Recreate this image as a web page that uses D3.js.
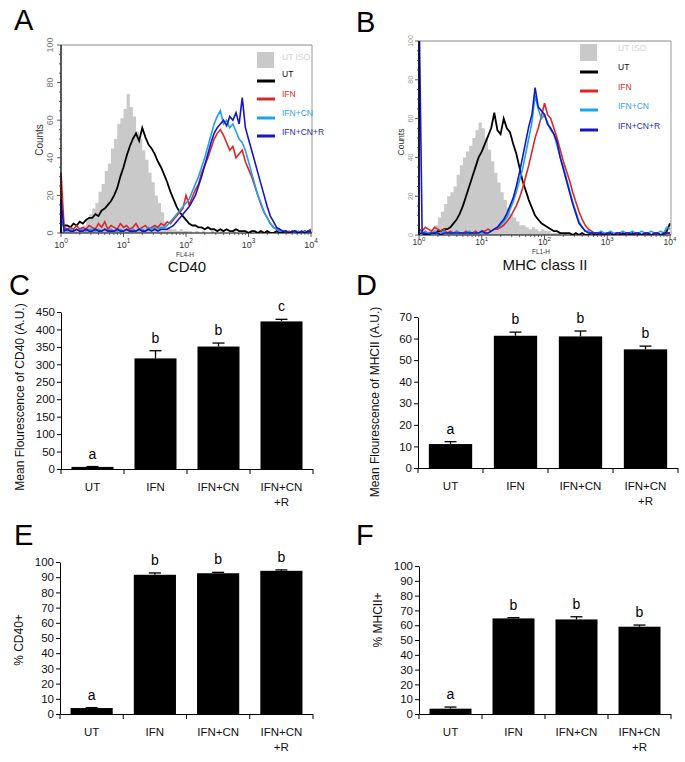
<!DOCTYPE html>
<html><head><meta charset="utf-8">
<script src="https://cdn.jsdelivr.net/npm/d3@7"></script>
<style>
body{margin:0;background:#fff}
svg{display:block}
text{font-family:"Liberation Sans",Arial,Helvetica,sans-serif}
</style>
</head><body>
<svg id="fig" width="685" height="762"></svg>
<script>
// ---------------- DATA ----------------
// Flow histograms: counts per channel, channels spaced 0.05 decade from 10^0 to 10^4
const histSeries = ["UT ISO", "UT", "IFN", "IFN+CN", "IFN+CN+R"];
const decadeTicks = [1, 10, 100, 1000, 10000];
const decadeExponents = ["0", "1", "2", "3", "4"];
const countTicks = [0, 20, 40, 60, 80, 100];

const cd40_UTISO = [2,1,1,2,1,2,3,4,7,10, 13,16,22,26,33,37,45,50,58,61, 66,74,67,62,54,50,44,39,32,27, 20,16,11,6,3,2,2,1,2,1, 1, 1,0,1,0,1,0,0,1,0,0, 1,0,0,0,1,0,0,0,0,1, 0,0,0,0,0,1,0,0,0,0, 0,0,0,0,0,0,0,0,0,1];
const cd40_UT = [5,4,4,3,5,4,6,5,7,8, 8,10,9,12,13,15,17,20,24,30, 35,41,46,50,53,49,56,51,47,45, 42,38,35,31,27,22,18,14,11,9, 7,5,4,4,3,3,2,3,2,2, 1,2,1,2,1,1,2,1,1,1, 0,1,1,0,1,0,1,0,0,1, 0,0,1,0,0,1,0,0,1,0,1];
const cd40_IFN = [32,3,2,3,2,4,2,3,2,4, 3,2,5,3,6,2,4,3,2,5, 3,4,2,3,5,2,3,4,2,3, 4,3,5,4,6,5,7,9,11,13, 20,15,19,23,26,32,36,40,45,50, 53,55,52,48,44,46,40,42,44,38, 34,30,25,20,15,11,8,5,3,2, 1,1,0,1,0,1,0,1,0,1,2];
const cd40_IFNCN = [8,2,1,2,1,2,1,2,1,2, 2,1,2,1,2,1,2,1,1,2, 1,2,1,2,1,2,2,1,3,2, 3,2,3,3,4,6,8,10,12,14, 16,18,22,26,30,35,40,46,52,58, 62,65,58,60,56,58,54,50,48,44, 38,32,26,20,16,11,8,5,3,2, 1,1,1,0,1,0,1,0,1,0,1];
const cd40_IFNCNR = [18,1,2,1,1,2,1,1,2,1, 1,2,1,1,2,1,1,1,2,1, 1,2,1,1,1,2,1,1,2,1, 2,1,2,2,2,3,4,6,8,10, 12,14,17,20,25,30,36,42,48,53, 56,58,60,57,62,60,64,58,72,56, 50,44,38,32,26,20,14,9,6,3, 2,1,1,0,1,1,0,1,0,1,1];

const mhc_UTISO = [0,1,1,2,3,5,9,12,16,20, 22,25,31,36,40,43,46,50,54,58, 55,50,44,38,32,27,22,18,14,11, 9,7,5,5,4,3,4,3,2,3, 2,2,1,1,1,0,1,0,1,0, 0,1,0,0,0,1,0,0,0,0, 1,0,0,0,0,0,1,0,0,0, 0,0,1,0,0,0,0,0,0,0,1];
const mhc_UT = [1,1,0,1,1,1,2,2,3,3, 4,6,8,11,15,20,25,30,35,40, 43,47,51,55,63,54,52,60,55,53, 47,42,35,28,23,18,14,10,8,6, 5,4,3,2,2,1,1,1,1,0, 1,0,1,0,0,1,0,0,1,0, 0,1,0,0,0,1,0,0,1,0, 0,0,1,0,0,0,1,0,0,2,6];
const mhc_IFN = [3,2,4,3,2,4,3,2,3,1, 2,1,2,1,1,2,1,1,2,1, 2,2,3,2,3,3,4,5,7,9, 12,15,19,24,30,36,43,50,55,61, 68,62,60,55,50,44,38,33,28,22, 17,12,8,5,3,2,1,1,0,1, 0,1,0,0,1,0,0,1,0,0, 1,0,0,1,0,0,1,0,0,1,1];
const mhc_IFNCN = [2,1,2,1,1,2,1,1,2,1, 1,1,2,1,1,1,2,1,1,1, 1,1,1,2,3,4,5,7,9,13, 17,22,28,34,42,50,58,72,65,60, 62,58,54,52,46,40,35,29,23,17, 12,7,4,2,2,1,1,1,2,1, 1,2,1,1,1,2,1,1,2,1, 1,2,1,1,2,1,1,2,1,4,3];
const mhc_IFNCNR = [120,1,1,0,1,1,1,0,1,1, 1,1,1,1,1,1,1,1,1,1, 2,1,1,2,3,4,6,8,11,15, 19,25,32,40,48,56,62,76,66,64, 62,57,55,52,48,40,34,28,22,16, 11,6,4,2,1,1,1,1,1,0, 1,1,0,1,1,0,1,1,0,1, 1,0,1,1,0,1,1,0,1,1,1];

// Bar charts
const barCategories = ["UT", "IFN", "IFN+CN", "IFN+CN +R"];
const barCategoryLines = [["UT"], ["IFN"], ["IFN+CN"], ["IFN+CN", "+R"]];

const mfiCD40 = [6, 317, 351, 423];
const mfiCD40Err = [1, 22, 10, 6];
const mfiCD40Sig = ["a", "b", "b", "c"];
const mfiCD40Ticks = [0, 50, 100, 150, 200, 250, 300, 350, 400, 450];

const mfiMHCII = [11.1, 61.3, 61.0, 55.0];
const mfiMHCIIErr = [1.1, 1.7, 2.5, 1.5];
const mfiMHCIISig = ["a", "b", "b", "b"];
const mfiMHCIITicks = [0, 10, 20, 30, 40, 50, 60, 70];

const pctCD40 = [3.9, 91.6, 92.6, 94.2];
const pctCD40Err = [0.3, 1.2, 0.6, 0.6];
const pctCD40Sig = ["a", "b", "b", "b"];
const pctTicks = [0, 10, 20, 30, 40, 50, 60, 70, 80, 90, 100];

const pctMHCII = [3.6, 64.6, 63.9, 59.0];
const pctMHCIIErr = [1.1, 0.5, 1.8, 1.1];
const pctMHCIISig = ["a", "b", "b", "b"];

// ---------------- STYLES ----------------
const seriesColor = {"UT ISO": "#c9c9c9", "UT": "#000000", "IFN": "#de2626", "IFN+CN": "#1ea2ee", "IFN+CN+R": "#1616c8"};
const legendTextColor = {"UT ISO": "#d2d2d2", "UT": "#111111", "IFN": "#d22c2c", "IFN+CN": "#2aa4ea", "IFN+CN+R": "#2a2ab8"};
const FONT = '"Liberation Sans", Arial, sans-serif';

const svg = d3.select("#fig");
const channels = d3.range(cd40_UT.length).map(i => Math.pow(10, i * 0.05));

// ---------------- HISTOGRAM PANEL ----------------
function drawHist(o, dataBySeries) {
  const g = svg.append("g");
  const x = d3.scaleLog().domain([1, 1e4]).range([o.x0, o.x1]);
  const y = d3.scaleLinear().domain([0, 100]).range([o.yBot, o.yTop]);
  const clipId = "clip" + o.id;
  svg.append("defs").append("clipPath").attr("id", clipId)
    .append("rect").attr("x", o.x0 - 1).attr("y", o.yTop).attr("width", o.x1 - o.x0 + 2).attr("height", o.yBot - o.yTop);

  const pts = vals => [[1, 0]].concat(channels.map((c, i) => [c, vals[i]]));
  const plot = g.append("g").attr("clip-path", `url(#${clipId})`);

  const area = d3.area().curve(d3.curveStepAfter)
    .x(d => x(d[0])).y0(y(0)).y1(d => y(d[1]));
  plot.append("path").attr("d", area(pts(dataBySeries["UT ISO"])))
    .attr("fill", seriesColor["UT ISO"]);

  const line = d3.line().curve(d3.curveLinear).x(d => x(d[0])).y(d => y(d[1]));
  ["UT", "IFN", "IFN+CN", "IFN+CN+R"].forEach(s => {
    plot.append("path").attr("d", line(pts(dataBySeries[s])))
      .attr("fill", "none").attr("stroke", seriesColor[s])
      .attr("stroke-width", s === "UT" ? 1.8 : 1.6).attr("stroke-linejoin", "miter");
  });

  // frame
  g.append("line").attr("x1", o.x0).attr("x2", o.x1 + 1).attr("y1", o.yTop).attr("y2", o.yTop).attr("stroke", "#8a8a8a").attr("stroke-width", 1);
  g.append("line").attr("x1", o.x1 + 1).attr("x2", o.x1 + 1).attr("y1", o.yTop).attr("y2", o.yBot).attr("stroke", "#9a9a9a").attr("stroke-width", 1);
  g.append("line").attr("x1", o.x0).attr("x2", o.x0).attr("y1", o.yTop).attr("y2", o.yBot).attr("stroke", "#000").attr("stroke-width", 1.3);
  g.append("line").attr("x1", o.x0).attr("x2", o.x1 + 1).attr("y1", o.yBot).attr("y2", o.yBot).attr("stroke", "#000").attr("stroke-width", 1);

  // y ticks
  d3.range(0, 101, 5).forEach(v => {
    const major = v % 20 === 0;
    g.append("line").attr("x1", o.x0 - (major ? 4 : 2)).attr("x2", o.x0)
      .attr("y1", y(v)).attr("y2", y(v)).attr("stroke", "#333").attr("stroke-width", 0.8);
  });
  countTicks.forEach(v => {
    g.append("text").attr("transform", `translate(${o.yLabX},${y(v)}) rotate(-90)`)
      .attr("text-anchor", "middle").attr("font-size", o.yLabSize).attr("fill", o.yLabColor).text(v);
  });
  // x ticks (log)
  decadeTicks.forEach((d, k) => {
    g.append("line").attr("x1", x(d)).attr("x2", x(d)).attr("y1", o.yBot).attr("y2", o.yBot + 4).attr("stroke", "#333").attr("stroke-width", 0.8);
    if (k < 4) for (let m = 2; m <= 9; m++) {
      g.append("line").attr("x1", x(d * m)).attr("x2", x(d * m)).attr("y1", o.yBot).attr("y2", o.yBot + 2).attr("stroke", "#333").attr("stroke-width", 0.7);
    }
    const t = g.append("text").attr("x", x(d)).attr("y", o.xLabY).attr("text-anchor", "middle").attr("fill", "#333");
    t.append("tspan").attr("font-size", o.xLabSize).text("10");
    t.append("tspan").attr("font-size", o.xLabSize * 0.72).attr("dy", -o.xLabSize * 0.45).text(decadeExponents[k]);
  });

  // small axis titles
  g.append("text").attr("x", o.chanX).attr("y", o.chanY).attr("text-anchor", "middle")
    .attr("font-size", 6.5).attr("fill", "#333").text(o.chanLabel);
  g.append("text").attr("x", o.titleX).attr("y", o.titleY).attr("text-anchor", "middle")
    .attr("font-size", 15).attr("fill", "#111").text(o.title);
  g.append("text").attr("transform", `translate(${o.countsX},${o.countsY}) rotate(-90)`)
    .attr("text-anchor", "middle").attr("font-size", o.countsSize).attr("fill", "#333").text("Counts");

  // legend
  g.append("rect").attr("x", o.legX).attr("y", o.legRectY).attr("width", 17).attr("height", o.legRectH)
    .attr("fill", seriesColor["UT ISO"]);
  g.append("text").attr("x", o.legTextX).attr("y", o.legIsoY).attr("font-size", 8.5)
    .attr("fill", legendTextColor["UT ISO"]).text("UT ISO");
  ["UT", "IFN", "IFN+CN", "IFN+CN+R"].forEach((s, i) => {
    g.append("line").attr("x1", o.legX).attr("x2", o.legX + 18).attr("y1", o.legLineY[i]).attr("y2", o.legLineY[i])
      .attr("stroke", seriesColor[s]).attr("stroke-width", 3);
    g.append("text").attr("x", o.legTextX).attr("y", o.legTextY[i]).attr("font-size", 8.5)
      .attr("fill", legendTextColor[s]).text(s);
  });
}

drawHist({
  id: "A", x0: 61, x1: 311, yTop: 45, yBot: 233,
  yLabX: 53, yLabSize: 9, yLabColor: "#777",
  xLabY: 247.5, xLabSize: 9,
  chanX: 185, chanY: 256.5, chanLabel: "FL4-H",
  titleX: 187, titleY: 272, title: "CD40",
  countsX: 42.5, countsY: 140, countsSize: 10,
  legX: 257, legRectY: 52, legRectH: 16, legTextX: 282, legIsoY: 60,
  legLineY: [81, 99, 118, 136], legTextY: [77, 97, 116, 135]
}, {"UT ISO": cd40_UTISO, "UT": cd40_UT, "IFN": cd40_IFN, "IFN+CN": cd40_IFNCN, "IFN+CN+R": cd40_IFNCNR});

drawHist({
  id: "B", x0: 419, x1: 670, yTop: 41, yBot: 235,
  yLabX: 412.5, yLabSize: 7, yLabColor: "#999",
  xLabY: 245, xLabSize: 8.5,
  chanX: 541, chanY: 254, chanLabel: "FL1-H",
  titleX: 545, titleY: 270, title: "MHC class II",
  countsX: 403.5, countsY: 142, countsSize: 8.5,
  legX: 580, legRectY: 44, legRectH: 17, legTextX: 618, legIsoY: 51,
  legLineY: [72, 91, 110, 130], legTextY: [70, 90, 109, 129]
}, {"UT ISO": mhc_UTISO, "UT": mhc_UT, "IFN": mhc_IFN, "IFN+CN": mhc_IFNCN, "IFN+CN+R": mhc_IFNCNR});

// ---------------- BAR PANELS ----------------
function drawBars(o) {
  const g = svg.append("g");
  const x = d3.scaleBand().domain(barCategories).range([o.x0, o.x1]).paddingInner(1 / 3).paddingOuter(1 / 6);
  const y = d3.scaleLinear().domain([0, o.max]).range([o.y0, o.y1]);
  const step = x.step();

  g.selectAll("rect.bar").data(barCategories).enter().append("rect")
    .attr("x", d => x(d)).attr("width", x.bandwidth())
    .attr("y", (d, i) => y(o.values[i])).attr("height", (d, i) => y(0) - y(o.values[i]))
    .attr("fill", "#000");

  barCategories.forEach((c, i) => {
    const cx = x(c) + x.bandwidth() / 2;
    const top = y(o.values[i] + o.errs[i]);
    g.append("line").attr("x1", cx).attr("x2", cx).attr("y1", y(o.values[i])).attr("y2", top).attr("stroke", "#000").attr("stroke-width", 1.3);
    g.append("line").attr("x1", cx - 6).attr("x2", cx + 6).attr("y1", top).attr("y2", top).attr("stroke", "#000").attr("stroke-width", 1.3);
    g.append("text").attr("x", cx).attr("y", top - 8).attr("text-anchor", "middle")
      .attr("font-size", 14).attr("fill", "#000").text(o.sig[i]);
    barCategoryLines[i].forEach((ln, k) => {
      g.append("text").attr("x", cx).attr("y", o.y0 + 22 + k * 15).attr("text-anchor", "middle")
        .attr("font-size", 11.5).attr("fill", "#111").text(ln);
    });
  });

  const ya = g.append("g").attr("transform", `translate(${o.x0},0)`)
    .call(d3.axisLeft(y).tickValues(o.ticks).tickSize(4).tickSizeOuter(0).tickPadding(2));
  ya.select(".domain").attr("stroke", "#000").attr("stroke-width", 1);
  ya.selectAll(".tick line").attr("stroke", "#000");
  ya.selectAll(".tick text").attr("font-size", 11.5).attr("font-family", FONT).attr("fill", "#111");

  g.append("line").attr("x1", o.x0).attr("x2", o.x1).attr("y1", o.y0 + 0.5).attr("y2", o.y0 + 0.5).attr("stroke", "#000").attr("stroke-width", 1);
  for (let i = 0; i <= barCategories.length; i++) {
    const bx = o.x0 + i * step;
    g.append("line").attr("x1", bx).attr("x2", bx).attr("y1", o.y0).attr("y2", o.y0 + 5).attr("stroke", "#000").attr("stroke-width", 1);
  }

  g.append("text").attr("transform", `translate(${o.titleX},${o.titleY}) rotate(-90)`)
    .attr("text-anchor", "middle").attr("font-size", 12).attr("fill", "#111").text(o.title);
}

drawBars({x0: 61, x1: 313, y0: 469, y1: 312, max: 450, ticks: mfiCD40Ticks,
  values: mfiCD40, errs: mfiCD40Err, sig: mfiCD40Sig,
  title: "Mean Flourescence of CD40 (A.U.)", titleX: 24, titleY: 397});
drawBars({x0: 418, x1: 678, y0: 468, y1: 317, max: 70, ticks: mfiMHCIITicks,
  values: mfiMHCII, errs: mfiMHCIIErr, sig: mfiMHCIISig,
  title: "Mean Flourescence of MHCII (A.U.)", titleX: 379, titleY: 402});
drawBars({x0: 60, x1: 313, y0: 714, y1: 562, max: 100, ticks: pctTicks,
  values: pctCD40, errs: pctCD40Err, sig: pctCD40Sig,
  title: "% CD40+", titleX: 23, titleY: 640});
drawBars({x0: 419, x1: 671, y0: 714, y1: 566, max: 100, ticks: pctTicks,
  values: pctMHCII, errs: pctMHCIIErr, sig: pctMHCIISig,
  title: "% MHCII+", titleX: 382, titleY: 620});

// ---------------- PANEL LETTERS ----------------
const panelLetters = ["A", "B", "C", "D", "E", "F"];
const letterPos = [[14, 30], [356, 32], [9, 295], [356, 295], [14, 545], [356, 545]];
panelLetters.forEach((L, i) => {
  svg.append("text").attr("x", letterPos[i][0]).attr("y", letterPos[i][1])
    .attr("font-size", 29).attr("fill", "#000").text(L);
});
</script>
</body></html>
